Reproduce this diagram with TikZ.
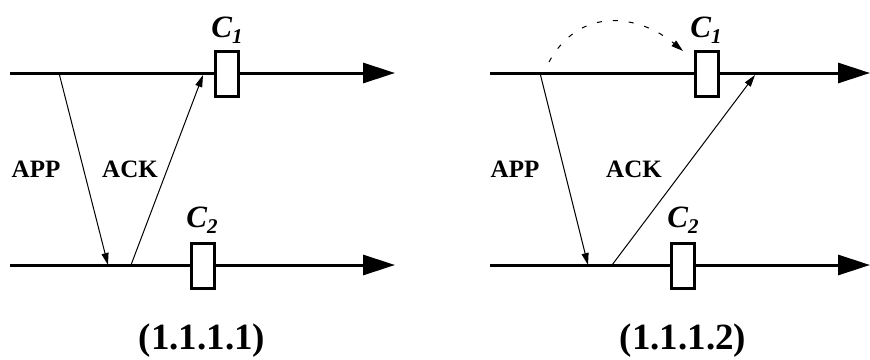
\documentclass[tikz,border=0pt]{standalone}
\usepackage{fontspec}
\setmainfont{Liberation Serif}
\usetikzlibrary{arrows.meta}
\tikzset{
  timeline/.style={line width=3pt, -{Triangle[length=32pt,width=20pt]}},
  msg/.style={line width=1pt, -{Triangle[length=12pt,width=7pt]}},
  ckpt/.style={draw, line width=3pt, fill=white, minimum width=23pt,
    minimum height=45pt, inner sep=0pt},
  msglabel/.style={anchor=base, font=\fontsize{25pt}{25pt}\selectfont\bfseries},
  ckptlabel/.style={anchor=base, font=\fontsize{31pt}{31pt}\selectfont\bfseries\itshape},
  caption/.style={anchor=base, font=\fontsize{37pt}{37pt}\selectfont\bfseries},
}
\newcommand{\ckname}[1]{C\raisebox{-6pt}{\fontsize{21pt}{21pt}\selectfont #1}}

\begin{document}
\begin{tikzpicture}[x=1pt,y=-1pt]
  \useasboundingbox (0,0) rectangle (870,359);

  % Left panel (1.1.1.1)
  \coordinate (a1) at (10,73);
  \coordinate (b1) at (395,73);
  \coordinate (c1) at (10,265);
  \coordinate (d1) at (395,265);
  \draw[timeline] (a1) -- (b1);
  \draw[timeline] (c1) -- (d1);

  \coordinate (app1s) at (59,73);
  \coordinate (app1e) at (108,265);
  \coordinate (ack1s) at (131,265);
  \coordinate (ack1e) at (203,75);
  \draw[msg] (app1s) -- (app1e);
  \draw[msg] (ack1s) -- (ack1e);

  \node[ckpt] (k11) at (227,74) {};
  \node[ckpt] (k12) at (203,266) {};
  \node[ckptlabel] (n11) at (227,37) {\ckname{1}};
  \node[ckptlabel] (n12) at (202,227) {\ckname{2}};
  \node[msglabel] (app1) at (36,177) {APP};
  \node[msglabel] (ack1) at (130,177) {ACK};
  \node[caption] (cap1) at (202,349) {(1.1.1.1)};

  % Right panel (1.1.1.2)
  \coordinate (a2) at (490,73);
  \coordinate (b2) at (870,73);
  \coordinate (c2) at (490,265);
  \coordinate (d2) at (870,265);
  \draw[timeline] (a2) -- (b2);
  \draw[timeline] (c2) -- (d2);

  \coordinate (app2s) at (540,73);
  \coordinate (app2e) at (588,265);
  \coordinate (ack2s) at (612,265);
  \coordinate (ack2e) at (755,75);
  \draw[msg] (app2s) -- (app2e);
  \draw[msg] (ack2s) -- (ack2e);

  \coordinate (jump2s) at (549,62);
  \coordinate (jump2e) at (683,51);
  \draw[msg, dash pattern=on 5pt off 11pt]
    (jump2s) .. controls (580,5) and (640,15) .. (jump2e);

  \node[ckpt] (k21) at (707,74) {};
  \node[ckpt] (k22) at (683,266) {};
  \node[ckptlabel] (n21) at (706,37) {\ckname{1}};
  \node[ckptlabel] (n22) at (683,227) {\ckname{2}};
  \node[msglabel] (app2) at (515,177) {APP};
  \node[msglabel] (ack2) at (634,177) {ACK};
  \node[caption] (cap2) at (683,349) {(1.1.1.2)};
\end{tikzpicture}
\end{document}
